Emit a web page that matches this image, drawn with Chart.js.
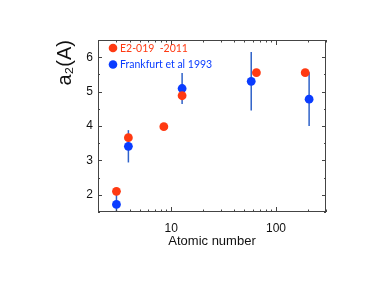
<!DOCTYPE html>
<html>
<head>
<meta charset="utf-8">
<script src="https://cdn.jsdelivr.net/npm/chart.js@4.4.0/dist/chart.umd.min.js"></script>
<style>
  html, body { margin: 0; padding: 0; background: #fff; }
  #wrap { width: 376px; height: 291px; }
</style>
</head>
<body>
<div id="wrap"><canvas id="a2Chart" width="376" height="291"></canvas></div>
<script>
// E2-019 (2011)
const redX = [3, 3.9, 8.5, 12.7, 65, 190];
const redY = [2.1, 3.66, 3.98, 4.88, 5.55, 5.55];
// Frankfurt et al 1993
const blueX = [3, 3.9, 12.7, 58, 207];
const blueY = [1.72, 3.41, 5.09, 5.3, 4.78];
const blueErr = [0.35, 0.47, 0.45, 0.85, 0.78];

const xLabelTicks = [10, 100];
const xMinorTicks = [2, 3, 4, 5, 6, 7, 8, 9, 20, 30, 40, 50, 60, 70, 80, 90, 200, 300];
const yLabelTicks = [2, 3, 4, 5, 6];
const yMinorTicks = [1.5, 2.5, 3.5, 4.5, 5.5, 6.5];

const legendNames = ["E2-019  -2011", "Frankfurt et al 1993"];
const RED = "#ff3a12";
const BLUE = "#0a3cff";

const toPoints = (xs, ys) => xs.map((x, i) => ({ x: x, y: ys[i] }));

// error bars + frame with inward ticks + legend
const extras = {
    id: "extras",
    beforeDatasetsDraw(chart) {
        const { ctx, chartArea, scales } = chart;
        ctx.save();
        ctx.beginPath();
        ctx.rect(chartArea.left, chartArea.top, chartArea.right - chartArea.left, chartArea.bottom - chartArea.top);
        ctx.clip();
        ctx.strokeStyle = "#2f62c9";
        ctx.lineWidth = 1.5;
        blueX.forEach((x, i) => {
            const px = scales.x.getPixelForValue(x);
            ctx.beginPath();
            ctx.moveTo(px, scales.y.getPixelForValue(blueY[i] - blueErr[i]));
            ctx.lineTo(px, scales.y.getPixelForValue(blueY[i] + blueErr[i]));
            ctx.stroke();
        });
        ctx.restore();
    },
    afterDraw(chart) {
        const { ctx, chartArea: a, scales } = chart;
        ctx.save();
        ctx.strokeStyle = "#444";
        ctx.lineWidth = 1;
        ctx.strokeRect(a.left + 0.5, a.top + 0.5, a.right - a.left - 1, a.bottom - a.top - 1);

        const tick = (x1, y1, x2, y2) => {
            ctx.beginPath();
            ctx.moveTo(x1, y1);
            ctx.lineTo(x2, y2);
            ctx.stroke();
        };
        yLabelTicks.forEach(v => {
            const py = Math.round(scales.y.getPixelForValue(v)) + 0.5;
            tick(a.left, py, a.left + 4, py);
            tick(a.right, py, a.right - 4, py);
        });
        yMinorTicks.forEach(v => {
            const py = Math.round(scales.y.getPixelForValue(v)) + 0.5;
            tick(a.left, py, a.left + 2, py);
            tick(a.right, py, a.right - 2, py);
        });
        xLabelTicks.forEach(v => {
            const px = Math.round(scales.x.getPixelForValue(v)) + 0.5;
            tick(px, a.bottom, px, a.bottom - 5);
            tick(px, a.top, px, a.top + 5);
        });
        xMinorTicks.forEach(v => {
            const px = Math.round(scales.x.getPixelForValue(v)) + 0.5;
            tick(px, a.bottom, px, a.bottom - 2.5);
            tick(px, a.top, px, a.top + 2.5);
        });

        // legend
        const colors = [RED, BLUE];
        ctx.font = "10.5px Lato";
        ctx.textBaseline = "middle";
        legendNames.forEach((name, i) => {
            const cy = a.top + 8 + i * 16.5;
            ctx.fillStyle = colors[i];
            ctx.beginPath();
            ctx.arc(a.left + 15, cy, 4.3, 0, Math.PI * 2);
            ctx.fill();
            ctx.fillText(name, a.left + 22, cy + 0.5);
        });
        ctx.restore();
    }
};

const ctx = document.getElementById("a2Chart").getContext("2d");
const a2Chart = new Chart(ctx, {
    type: "scatter",
    data: {
        datasets: [{
            label: legendNames[0],
            data: toPoints(redX, redY),
            backgroundColor: RED,
            borderWidth: 0,
            pointRadius: 4.4,
            pointHoverRadius: 4.4
        }, {
            label: legendNames[1],
            data: toPoints(blueX, blueY),
            backgroundColor: BLUE,
            borderWidth: 0,
            pointRadius: 4.4,
            pointHoverRadius: 4.4
        }]
    },
    options: {
        responsive: false,
        animation: false,
        layout: { padding: { left: 0, top: 40, right: 50, bottom: 0 } },
        plugins: {
            legend: { display: false },
            tooltip: { enabled: false }
        },
        scales: {
            x: {
                type: "logarithmic",
                min: 2,
                max: 300,
                grid: { display: false, drawTicks: false },
                border: { display: false },
                afterBuildTicks: s => { s.ticks = xLabelTicks.map(v => ({ value: v })); },
                afterFit: s => { s.height = 79; },
                ticks: {
                    padding: 9,
                    color: "#111",
                    font: { family: "Liberation Sans", size: 12 },
                    maxRotation: 0,
                    callback: v => String(v)
                },
                title: {
                    display: true,
                    text: "Atomic number",
                    color: "#111",
                    font: { family: "Liberation Sans", size: 13 },
                    padding: { top: 0, bottom: 42 }
                }
            },
            y: {
                min: 1.5,
                max: 6.5,
                grid: { display: false, drawTicks: false },
                border: { display: false },
                afterBuildTicks: s => { s.ticks = yLabelTicks.map(v => ({ value: v })); },
                afterFit: s => { s.width = 98; },
                ticks: {
                    padding: 5,
                    color: "#111",
                    font: { family: "Liberation Sans", size: 12 }
                },
                title: {
                    display: true,
                    text: "a₂(A)",
                    align: "end",
                    color: "#111",
                    font: { family: "Liberation Sans", size: 20 },
                    padding: { top: 53, bottom: 0 }
                }
            }
        }
    },
    plugins: [extras]
});
</script>
</body>
</html>
